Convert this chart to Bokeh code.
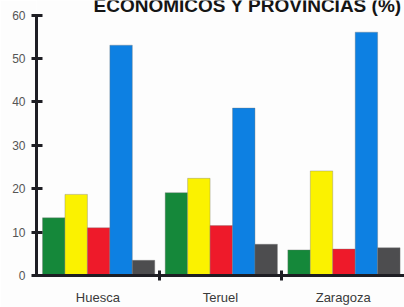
from bokeh.plotting import figure
from bokeh.models import Range1d, FixedTicker, ColumnDataSource, Label
from bokeh.embed import file_html
from bokeh.resources import INLINE

provinces = ["Huesca", "Teruel", "Zaragoza"]
sectors = ["Agricultura", "Industria", "Construcción", "Servicios", "Otros"]
colors = ["#15883a", "#fbf200", "#ee1a2a", "#0d80e2", "#4d4d4f"]
values = {
    "Agricultura":  [13.3, 19.1, 5.9],
    "Industria":    [18.7, 22.4, 24.1],
    "Construcción": [11.0, 11.5, 6.1],
    "Servicios":    [53.1, 38.6, 56.1],
    "Otros":        [3.5, 7.2, 6.4],
}
y_ticks = [0, 10, 20, 30, 40, 50, 60]
title_text = "ECONÓMICOS Y PROVINCIAS (%)"

p = figure(width=404, height=307, output_backend="svg", toolbar_location=None,
           x_range=Range1d(0, 3), y_range=Range1d(0, 63.4),
           min_border_left=36, min_border_right=0, min_border_top=0, min_border_bottom=24)
p.background_fill_color = "#fdfdfd"
p.border_fill_color = "#fdfdfd"
p.outline_line_color = None
p.xgrid.visible = False
p.ygrid.visible = False

offset = 0.049
bw = 0.183
for j, s in enumerate(sectors):
    xs = [i + offset + bw * (j + 0.5) for i in range(len(provinces))]
    src = ColumnDataSource(dict(x=xs, top=values[s]))
    p.vbar(x="x", top="top", bottom=0, width=bw, source=src,
           fill_color=colors[j], line_color="#777777", line_width=0.6, line_alpha=0.6)

p.add_layout(Label(x=0.465, y=62.3, text=title_text, text_font="Liberation Sans",
                   text_font_style="bold", text_font_size="19px", text_color="#151515",
                   text_baseline="alphabetic", text_align="left"))

# y axis
ya = p.yaxis[0]
ya.ticker = FixedTicker(ticks=y_ticks, minor_ticks=[])
ya.bounds = (0, 60)
ya.axis_line_width = 3
ya.axis_line_color = "#1e1e24"
ya.major_tick_line_width = 3
ya.major_tick_line_color = "#1e1e24"
ya.major_tick_in = 6
ya.major_tick_out = 5
ya.minor_tick_line_color = None
ya.major_label_standoff = 6
ya.major_label_text_font = "Liberation Sans"
ya.major_label_text_font_size = "12px"
ya.major_label_text_color = "#555555"

# x axis: labels at group centers, separator ticks as minor ticks
xa = p.xaxis[0]
xa.ticker = FixedTicker(ticks=[0.5, 1.5, 2.5], minor_ticks=[1, 2])
xa.major_label_overrides = {0.5: provinces[0], 1.5: provinces[1], 2.5: provinces[2]}
xa.axis_line_width = 3
xa.axis_line_color = "#1e1e24"
xa.major_tick_line_color = None
xa.major_tick_in = 0
xa.major_tick_out = 0
xa.minor_tick_line_width = 3
xa.minor_tick_line_color = "#1e1e24"
xa.minor_tick_in = 5
xa.minor_tick_out = 5
xa.major_label_standoff = 9
xa.major_label_text_font = "Liberation Sans"
xa.major_label_text_font_size = "13px"
xa.major_label_text_color = "#3a3a3a"

open("out.html", "w").write(file_html(p, INLINE))
